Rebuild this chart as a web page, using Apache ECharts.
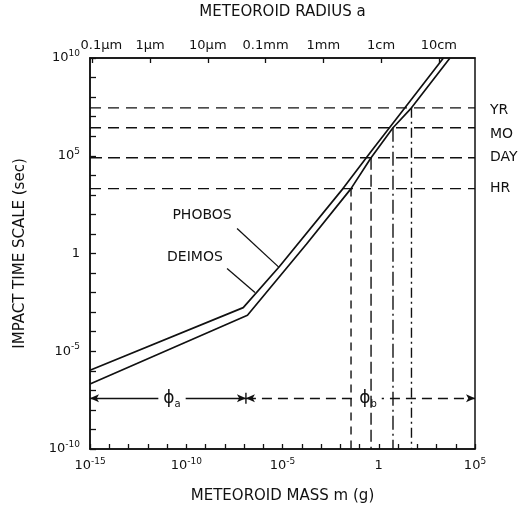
<!DOCTYPE html>
<html>
<head>
<meta charset="utf-8">
<script src="https://cdn.jsdelivr.net/npm/echarts@6/dist/echarts.min.js"></script>
<style>
  html, body { margin: 0; background: #fff; }
  #chart { width: 526px; height: 509px; }
</style>
</head>
<body>
<div id="chart"></div>
<script>
const FONT = '"DejaVu Sans", sans-serif';
const INK = '#111';

// all values are log10: mass in g, time in s, radius in cm
const massLabelExp = [-15, -10, -5, 0, 5];
const timeLabelExp = [-10, -5, 0, 5, 10];
const radiusTickExp = [-5, -4, -3, -2, -1, 0, 1];
const radiusLabels = ['0.1µm', '1µm', '10µm', '0.1mm', '1mm', '1cm', '10cm'];

const phobosMass = [-15, -7.04, -5.17, -1.86, -0.37, 1.36, 3.36];
const phobosTime = [-5.97, -2.77, -0.68, 3.32, 5.26, 7.45, 10];
const deimosMass = [-15, -6.82, -3.75, -1.44, -0.40, 0.74, 1.70, 3.70];
const deimosTime = [-6.68, -3.16, 0.49, 3.32, 4.90, 6.43, 7.45, 10];

const levelNames = ['YR', 'MO', 'DAY', 'HR'];
const levelTime = [7.45, 6.43, 4.90, 3.32];
const levelMass = [1.70, 0.74, -0.40, -1.44];   // where the curve crosses each level

const phiNames = ['a', 'b'];
const phiEdges = [-15, -6.9, 5];
const phiLabelMass = [-10.74, -0.56];
const phiTime = -7.4;

const phobosLabelAt = [-9.18, 1.94];
const deimosLabelAt = [-9.55, -0.2];
const phobosLeader = [[-7.36, 1.28], [-5.18, -0.71]];
const deimosLeader = [[-7.88, -0.77], [-6.43, -1.99]];

const radiusOffset = 0.12;

const zip = (a, b) => a.map((v, i) => [v, b[i]]);

const supRich = {
  b: { fontSize: 13, lineHeight: 18, fontFamily: FONT, color: INK },
  s: { fontSize: 9, lineHeight: 10, verticalAlign: 'top', fontFamily: FONT, color: INK }
};
function powLabel(v) {
  if (v === 0) return '{b|1}';
  return '{b|10}{s|' + v + '}';
}

const chart = echarts.init(document.getElementById('chart'));

const series = [];
// curves
[[phobosMass, phobosTime], [deimosMass, deimosTime]].forEach(function (c) {
  series.push({
    type: 'line', data: zip(c[0], c[1]), symbol: 'none', silent: true,
    lineStyle: { color: INK, width: 1.7 }
  });
});
// horizontal time levels
const hDash = [[11, 7], [11, 7], [12, 6], [11, 7]];
levelTime.forEach(function (t, i) {
  series.push({
    type: 'line', data: [[-15, t], [5, t]], symbol: 'none', silent: true,
    lineStyle: { color: INK, width: 1.4, type: hDash[i] }
  });
});
// vertical drops to the mass axis (kept above the phi label box)
const vDash = [[10, 4, 2, 4], [14, 4, 2, 4], [12, 5], [8, 6]];
levelMass.forEach(function (m, i) {
  series.push({
    type: 'line', data: [[m, levelTime[i]], [m, -10]], symbol: 'none', silent: true, z: 11,
    lineStyle: { color: INK, width: 1.4, type: vDash[i] }
  });
});
// leaders
[phobosLeader, deimosLeader].forEach(function (l) {
  series.push({
    type: 'line', data: l, symbol: 'none', silent: true,
    lineStyle: { color: INK, width: 1.3 }
  });
});
// phi ranges: arrows + divider tick
series.push({
  type: 'line', data: [[phiEdges[1], phiTime + 0.28], [phiEdges[1], phiTime - 0.28]],
  symbol: 'none', silent: true, lineStyle: { color: INK, width: 1.4 },
  markLine: {
    silent: true, symbol: ['arrow', 'arrow'], symbolSize: [6, 9], z: 3,
    label: { show: false },
    data: phiNames.map(function (p, i) {
      return [
        { coord: [phiEdges[i], phiTime],
          lineStyle: { color: INK, width: 1.4, type: i === 0 ? 'solid' : [10, 6] } },
        { coord: [phiEdges[i + 1], phiTime] }
      ];
    })
  }
});
// text marks
[['PHOBOS', phobosLabelAt], ['DEIMOS', deimosLabelAt]].forEach(function (n) {
  series.push({
    type: 'scatter', data: [n[1]], symbolSize: 0, silent: true,
    itemStyle: { opacity: 1 },
    label: {
      show: true, position: 'inside', formatter: n[0], opacity: 1,
      fontFamily: FONT, fontSize: 14, color: INK, textBorderWidth: 0
    }
  });
});
series.push({
  type: 'scatter', data: zip(phiLabelMass, phiLabelMass.map(() => phiTime)),
  symbolSize: 0, silent: true, itemStyle: { opacity: 1 }, z: 10,
  label: {
    show: true, position: 'inside', opacity: 1, textBorderWidth: 0,
    backgroundColor: '#fff', padding: [0, 5],
    formatter: function (p) { return '{p|ϕ}{q|' + phiNames[p.dataIndex] + '}'; },
    rich: {
      p: { fontSize: 17, lineHeight: 22, fontFamily: FONT, color: INK },
      q: { fontSize: 10, lineHeight: 10, verticalAlign: 'bottom', fontFamily: FONT, color: INK }
    }
  }
});

const option = {
  animation: false,
  backgroundColor: '#fff',
  grid: {
    left: 90, right: 51, top: 57, bottom: 60,
    show: true, borderColor: INK, borderWidth: 1.5
  },
  xAxis: [{
    type: 'value', position: 'bottom', min: -15, max: 5, interval: 1,
    name: 'METEOROID MASS m (g)', nameLocation: 'middle', nameGap: 40,
    nameTextStyle: { fontFamily: FONT, fontSize: 15, color: INK },
    axisLine: { onZero: false, lineStyle: { color: INK, width: 1.5 } },
    axisTick: { inside: true, length: 5, lineStyle: { color: INK, width: 1.3 } },
    axisLabel: {
      margin: 8, rich: supRich,
      formatter: function (v) { return massLabelExp.indexOf(v) >= 0 ? powLabel(v) : ''; }
    },
    splitLine: { show: false }
  }, {
    type: 'value', position: 'top',
    min: (-15 - radiusOffset) / 3, max: (5 - radiusOffset) / 3,
    name: 'METEOROID RADIUS a', nameLocation: 'middle', nameGap: 38,
    nameTextStyle: { fontFamily: FONT, fontSize: 15, color: INK },
    axisLine: { onZero: false, lineStyle: { color: INK, width: 1.5 } },
    axisTick: { inside: true, length: 5, customValues: radiusTickExp, lineStyle: { color: INK, width: 1.3 } },
    axisLabel: {
      margin: 6, customValues: radiusTickExp, fontFamily: FONT, fontSize: 13, color: INK,
      formatter: function (v) {
        const i = radiusTickExp.indexOf(v);
        return i === 0 ? '{f|' + radiusLabels[i] + '}' : radiusLabels[i];
      },
      rich: { f: { fontFamily: FONT, fontSize: 13, color: INK, padding: [0, 0, 0, 18] } }
    },
    splitLine: { show: false }
  }],
  yAxis: [{
    type: 'value', position: 'left', min: -10, max: 10, interval: 1,
    name: 'IMPACT TIME SCALE (sec)', nameLocation: 'middle', nameGap: 62,
    nameTextStyle: { fontFamily: FONT, fontSize: 15, color: INK },
    axisLine: { onZero: false, lineStyle: { color: INK, width: 1.5 } },
    axisTick: { inside: true, length: 6, lineStyle: { color: INK, width: 1.3 } },
    axisLabel: {
      margin: 10, rich: supRich,
      formatter: function (v) { return timeLabelExp.indexOf(v) >= 0 ? powLabel(v) : ''; }
    },
    splitLine: { show: false }
  }, {
    type: 'value', position: 'right', min: -10, max: 10,
    axisLine: { show: false, onZero: false }, axisTick: { show: false }, splitLine: { show: false },
    axisLabel: {
      margin: 15, customValues: levelTime, fontFamily: FONT, fontSize: 14, color: INK,
      formatter: function (v) {
        const n = levelNames[levelTime.indexOf(v)];
        return n === 'MO' ? '{d|' + n + '}' : n === 'YR' ? '{e|' + n + '}' : n;
      },
      rich: {
        d: { fontFamily: FONT, fontSize: 14, color: INK, padding: [14, 0, 0, 0] },
        e: { fontFamily: FONT, fontSize: 14, color: INK, padding: [6, 0, 0, 0] }
      }
    }
  }],
  series: series
};

chart.setOption(option);
window.addEventListener('resize', function () { chart.resize(); });
</script>
</body>
</html>
